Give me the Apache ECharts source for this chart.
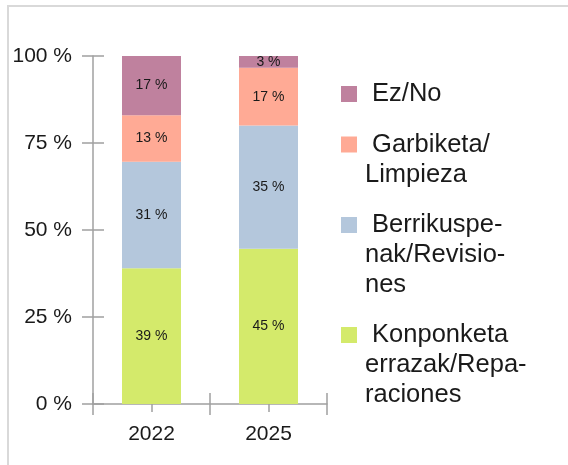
<!DOCTYPE html>
<html>
<head>
<meta charset="utf-8">
<script src="https://cdn.jsdelivr.net/npm/echarts@6/dist/echarts.min.js"></script>
<style>
  html, body { margin: 0; padding: 0; background: #fff; }
  #chart { width: 568px; height: 465px; }
</style>
</head>
<body>
<div id="chart"></div>
<script>
var years = ['2022', '2025'];
var seriesNames = ['Konponketa', 'Berrikuspenak', 'Garbiketa', 'EzNo'];
var legendLabels = ['Konponketa\nerrazak/Repa-\nraciones', 'Berrikuspe-\nnak/Revisio-\nnes', 'Garbiketa/\nLimpieza', 'Ez/No'];
var konponketa = [39, 44.6];
var berrikuspenak = [30.6, 35.4];
var garbiketa = [13.4, 16.6];
var ezNo = [17, 3.4];

var myChart = echarts.init(document.getElementById('chart'));
var colors = ['#d4ea6b', '#b4c7dc', '#ffaa95', '#bf819e'];
var axisColor = '#a0a0a0';
var font = 'Liberation Sans';
var values = [konponketa, berrikuspenak, garbiketa, ezNo];
var lh = 30;

// one legend per item; blank lines in front keep the square on the first text line
var iconTops = [327, 217, 136.5, 86];
var legends = seriesNames.map(function (name, i) {
    var lines = legendLabels[i].split('\n').length;
    var pad = new Array(lines).join('\n');
    return {
        show: true,
        orient: 'vertical',
        left: 341,
        top: iconTops[i] - ((2 * lines - 1) * lh / 2 - 8),
        padding: 0,
        itemWidth: 16,
        itemHeight: 16,
        selectedMode: false,
        icon: 'rect',
        data: [name],
        formatter: function () { return pad + ' ' + legendLabels[i]; },
        textStyle: {
            fontFamily: font,
            fontSize: 25.5,
            lineHeight: lh,
            color: '#1a1a1a',
            padding: [0, 0, 0, 3]
        }
    };
});

var yBase = {
    type: 'value',
    min: 0,
    max: 100,
    interval: 25,
    position: 'left',
    splitLine: { show: false }
};

option = {
    color: colors,
    animation: false,
    graphic: [{
        type: 'polyline',
        shape: { points: [[8, 465], [8, 6], [568, 6]] },
        style: { stroke: '#d9d9d9', lineWidth: 2, fill: null }
    }],
    legend: legends,
    grid: {
        left: 93,
        right: 241,
        top: 56,
        bottom: 61,
        containLabel: false
    },
    xAxis: [
        {
            type: 'category',
            data: years,
            boundaryGap: true,
            axisLine: { lineStyle: { color: axisColor, width: 1.5 } },
            axisTick: { show: true, inside: false, length: 11, lineStyle: { color: axisColor, width: 1.5 } },
            axisLabel: { fontFamily: font, fontSize: 21, color: '#1a1a1a', margin: 20 }
        },
        {
            type: 'category',
            data: years,
            position: 'bottom',
            axisLine: { show: false },
            axisTick: { show: true, inside: true, length: 11, lineStyle: { color: axisColor, width: 1.5 } },
            axisLabel: { show: false }
        },
        {
            type: 'category',
            data: years,
            position: 'bottom',
            axisLine: { show: false },
            axisTick: { show: true, alignWithLabel: true, length: 8, lineStyle: { color: axisColor, width: 1.5 } },
            axisLabel: { show: false }
        }
    ],
    yAxis: [
        Object.assign({}, yBase, {
            axisLine: { show: true, lineStyle: { color: axisColor, width: 1.5 } },
            axisTick: { show: true, inside: false, length: 11, lineStyle: { color: axisColor, width: 1.5 } },
            axisLabel: {
                fontFamily: font, fontSize: 21, color: '#1a1a1a', margin: 21,
                formatter: '{value} %'
            }
        }),
        Object.assign({}, yBase, {
            axisLine: { show: false },
            axisTick: { show: true, inside: true, length: 11, lineStyle: { color: axisColor, width: 1.5 } },
            axisLabel: { show: false }
        })
    ],
    series: seriesNames.map(function (name, i) {
        return {
            name: name,
            type: 'bar',
            stack: 'total',
            barWidth: 59,
            data: values[i],
            label: {
                show: true,
                position: 'inside',
                fontFamily: font,
                fontSize: 14,
                color: '#1a1a1a',
                formatter: function (p) { return Math.round(p.value) + ' %'; }
            }
        };
    })
};
myChart.setOption(option);
window.onresize = myChart.resize;
</script>
</body>
</html>
